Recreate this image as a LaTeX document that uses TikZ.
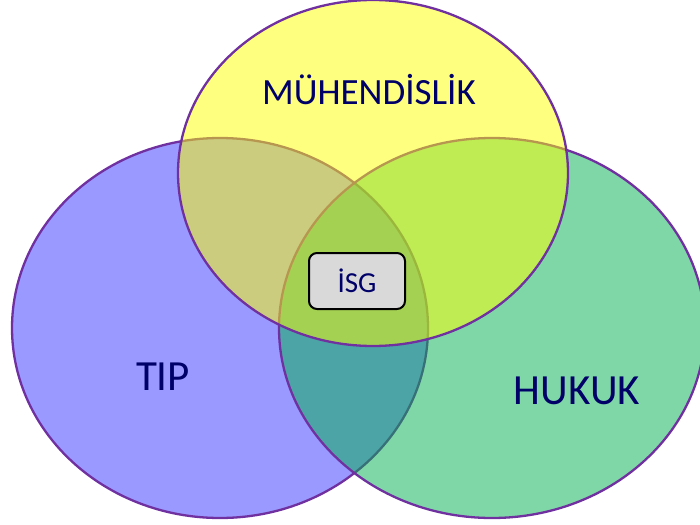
\documentclass[tikz,border=0pt]{standalone}
\usepackage{fontspec}
\setmainfont{Carlito}
\usetikzlibrary{shapes.geometric}
\definecolor{rim}{HTML}{7030A0}
\definecolor{navy}{RGB}{0,0,105}
\definecolor{fieldblue}{HTML}{3333FF}
\definecolor{fieldgreen}{HTML}{00B050}
\definecolor{fieldyellow}{HTML}{FFFF00}
\definecolor{boxgray}{HTML}{D9D9D9}
\begin{document}
\begin{tikzpicture}[x=1pt,y=-1pt,
  field/.style={ellipse, draw=rim, line width=2.3pt, fill opacity=0.5, inner sep=0pt},
  label/.style={text=navy, inner sep=0pt},
  core/.style={draw=black, line width=2pt, fill=boxgray, rounded corners=8pt,
    minimum width=96pt, minimum height=56pt, inner sep=0pt, text=navy}]
  \useasboundingbox (0,0) rectangle (700,524);
  % the three overlapping fields, yellow laid last over the others
  \node[field, fill=fieldblue, minimum width=416pt, minimum height=380pt] (tipf) at (220,328) {};
  \node[field, fill=fieldgreen, minimum width=426pt, minimum height=380pt] (hukf) at (492,328) {};
  \node[field, fill=fieldyellow, minimum width=390pt, minimum height=346pt] (muhf) at (373,173) {};
  % field names
  \node[label, font=\fontsize{37}{40}\selectfont] (muh) at (369,90) {MÜHENDİSLİK};
  \node[label, font=\fontsize{43}{46}\selectfont] (tip) at (163,377) {TIP};
  \node[label, font=\fontsize{43}{46}\selectfont] (huk) at (577,391) {HUKUK};
  % common ground in the middle
  \node[core, font=\fontsize{29}{32}\selectfont] (isg) at (357,281) {İSG};
\end{tikzpicture}
\end{document}
